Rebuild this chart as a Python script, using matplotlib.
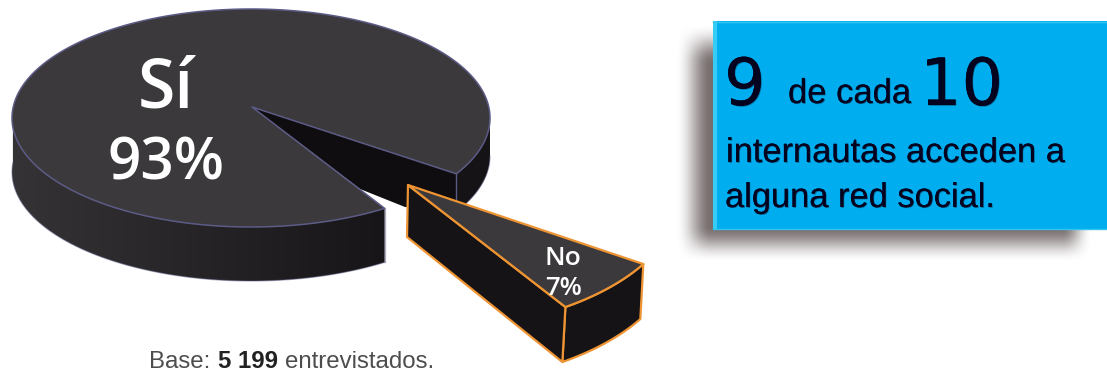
import numpy as np
import matplotlib; matplotlib.use('Agg')
import matplotlib.pyplot as plt
from matplotlib.colors import to_rgb
from matplotlib.patches import Polygon, Rectangle
import matplotlib.patheffects as pe

# share of internet users on social networks, exploded 3D pie plus a callout box
labels = ["Sí", "No"]
values = [93, 7]
base_txt = "5 199"

W, H = 1107, 371
TOP = "#3b393b"; WALL = "#0f0d0f"; DARK = "#151315"; EDGE = "#5b5b86"; ORG = "#ee9433"; BLUE = "#00aeef"
SANS = "Liberation Sans"; ROUND = "Open Sans"

fig = plt.figure(figsize=(W/100, H/100), dpi=100, facecolor="white")
ax = fig.add_axes([0, 0, 1, 1]); ax.axis('off')

# gap position comes from the No share, centred around 43.4 deg
sweep = 360*values[1]/sum(values)
t0 = 43.4 - sweep/2; t1 = 43.4 + sweep/2

def ell(t, cx=251, cy=118, a=239, b=109):
    t = np.radians(t)
    return np.column_stack([cx + a*np.cos(t), cy + b*np.sin(t)])

def poly(pts, fc, ec='none', lw=0, alpha=None, z=2):
    p = Polygon(pts, closed=True, fc=fc, ec=ec, lw=lw, alpha=alpha, zorder=z, joinstyle='round')
    ax.add_patch(p)
    return p

# ---- main pie ----
DEPTH = 54; DEPTH_R = 38
# right hand rim, mostly in shadow
th = np.linspace(0, t0, 30); top = ell(th)
poly(np.vstack([top, top[::-1]+[0, DEPTH_R]]), DARK)
ax.plot(*(top+[0, DEPTH_R]).T, color=EDGE, lw=0.8, alpha=0.5, zorder=2)
# inner wall seen through the gap
p0 = ell(t0)[0]
poly([(252, 107), p0, p0+[0, DEPTH_R], (405, 207), (360, 189)], WALL, z=3)
ax.plot([p0[0], p0[0]], [p0[1], p0[1]+DEPTH_R], color=EDGE, lw=1, zorder=3)
# front rim, horizontal gradient clipped to the rim outline
th = np.linspace(t1, 185, 90); top = ell(th)
rim = poly(np.vstack([top, top[::-1]+[0, DEPTH]]), 'none', z=4)
grad = np.zeros((1, 256, 3))
f = np.linspace(0, 1, 256)[:, None]
grad[0] = np.array(to_rgb("#353335"))*(1-f) + np.array(to_rgb("#171517"))*f
im = ax.imshow(grad, extent=[10, top[0, 0]+1, 300, 100], aspect='auto', zorder=4, interpolation='bilinear')
im.set_clip_path(rim)
ax.plot(*(top+[0, DEPTH]).T, color=EDGE, lw=0.9, alpha=0.45, zorder=4)
ax.plot([top[0, 0]]*2, [top[0, 1], top[0, 1]+DEPTH], color=EDGE, lw=0.9, alpha=0.5, zorder=4)
# top face
th = np.linspace(t1, t0+360, 400)
poly(np.vstack([[(252, 107)], ell(th)]), TOP, ec=EDGE, lw=1.1, z=5)

# ---- pulled out slice ----
sl = dict(cx=420, cy=194.6, a=260, b=135.6)
apex = np.array([408, 185]); drop = np.array([-3, 55])
th = np.linspace(t0, t1, 40); arc = ell(th, **sl)
poly(np.vstack([arc, arc[::-1]+drop]), DARK, ec=ORG, lw=1.6, z=6)
poly([apex, arc[-1], arc[-1]+drop, apex+[-1, 52]], DARK, ec=ORG, lw=1.6, z=6)
poly(np.vstack([[apex], arc]), TOP, ec=ORG, lw=1.6, z=7)

# ---- pie labels ----
ax.text(166, 108, labels[0], color="white", fontsize=49, family=ROUND, weight='semibold', ha='center', va='baseline', zorder=8)
ax.text(166, 179, "%d%%" % values[0], color="white", fontsize=42, family=ROUND, weight='semibold', ha='center', va='baseline', zorder=8)
ax.text(563, 265, labels[1], color="white", fontsize=19, family=ROUND, weight='semibold', ha='center', va='baseline', zorder=8)
ax.text(563, 295, "%d%%" % values[1], color="white", fontsize=18.5, family=ROUND, weight='semibold', ha='center', va='baseline', zorder=8)

# ---- base note ----
ax.text(149, 368, "Base:", color="#4d4d4d", fontsize=17.3, family=SANS, zorder=8)
ax.text(218, 368, base_txt, color="#222222", fontsize=17.3, family=SANS, weight='bold', zorder=8)
ax.text(285, 368, "entrevistados.", color="#4d4d4d", fontsize=17.3, family=SANS, zorder=8)

# ---- callout box, soft drop shadow first ----
def smooth(v):
    v = np.clip(v, 0, 1)
    return v*v*(3-2*v)

xx = np.arange(W)+0.5; yy = np.arange(H)+0.5
rx = smooth((xx-676)/36)*smooth((1092-xx)/30)
ry = smooth((yy-24)/40)*smooth((262-yy)/36)
img = np.zeros((H, W, 4)); img[..., :3] = (0.42, 0.38, 0.38)
img[..., 3] = 0.92*np.outer(ry, rx)
ax.imshow(img, extent=[0, W, H, 0], aspect='auto', zorder=1, interpolation='bilinear')
ax.add_patch(Rectangle((713, 21), W-713, 208, fc=BLUE, ec='none', zorder=2))
ax.add_patch(Rectangle((713, 21), 4, 208, fc="#35cdf5", ec='none', zorder=3))
ax.plot([713, W], [21.5, 21.5], color="#35c4f0", lw=1, zorder=3)
ax.plot([713, W], [228.5, 228.5], color="#35c4f0", lw=1, zorder=3)

halo = [pe.withSimplePatchShadow(offset=(0.6, -0.6), shadow_rgbFace="#00304f", alpha=0.5), pe.Normal()]
INK = "#03031f"
for x, y, s, fs, fam in [(724, 105, "9", 47, "DejaVu Sans"), (788, 103, "de cada", 24.9, SANS),
                         (920, 105, "10", 47, "DejaVu Sans"),
                         (726, 162, "internautas acceden a", 24.8, SANS), (725, 207, "alguna red social.", 24.8, SANS)]:
    ax.text(x, y, s, color=INK, fontsize=fs, family=fam, zorder=8, path_effects=halo)

ax.set_xlim(0, W); ax.set_ylim(H, 0)
fig.savefig("out.png", dpi=100, facecolor="white")
